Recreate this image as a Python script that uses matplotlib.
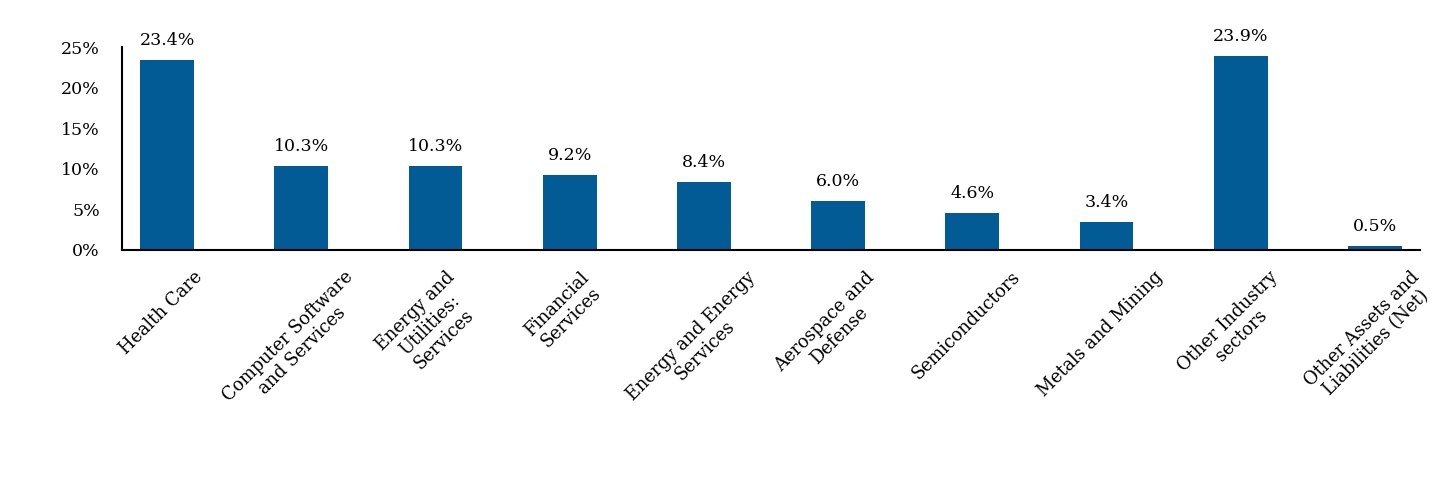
import matplotlib
matplotlib.use("Agg")
import matplotlib.pyplot as plt
import matplotlib.transforms as mtransforms
from matplotlib.ticker import FuncFormatter

categories = [
    "Health Care",
    "Computer Software\nand Services",
    "Energy and\nUtilities:\nServices",
    "Financial\nServices",
    "Energy and Energy\nServices",
    "Aerospace and\nDefense",
    "Semiconductors",
    "Metals and Mining",
    "Other Industry\nsectors",
    "Other Assets and\nLiabilities (Net)",
]
values = [23.4, 10.3, 10.3, 9.2, 8.4, 6.0, 4.6, 3.4, 23.9, 0.5]
yticks = [0, 5, 10, 15, 20, 25]

plt.rcParams['font.family'] = ['DejaVu Serif']

fig = plt.figure(figsize=(14.4, 4.92), dpi=100)
ax = fig.add_axes([122/1440, 1 - 250/492, (1420-122)/1440, (250-47)/492])

x = list(range(len(categories)))
bars = ax.bar(x, values, width=0.4, color="#035B96", zorder=2)

for xi, v in zip(x, values):
    ax.annotate(f"{v:.1f}%", (xi, v), xytext=(0, 8), textcoords="offset points",
                ha="center", va="bottom", fontsize=12.5, color="black")

ax.set_xlim(-0.336, len(categories) - 1 + 0.336)
ax.set_ylim(0, 25)
ax.set_yticks(yticks)
ax.yaxis.set_major_formatter(FuncFormatter(lambda v, p: f"{v:.0f}%"))
ax.tick_params(axis="y", length=0, labelsize=12.5, pad=16)
ax.tick_params(axis="x", length=0, pad=13)

ax.set_xticks(x)
ax.set_xticklabels(categories, rotation=45, ha="center", va="top",
                   multialignment="center", fontsize=12.8, linespacing=1.15)
offset = mtransforms.ScaledTranslation(-6/100, 0, fig.dpi_scale_trans)
for lab in ax.get_xticklabels():
    lab.set_transform(lab.get_transform() + offset)

for s in ["top", "right"]:
    ax.spines[s].set_visible(False)
ax.spines["left"].set_linewidth(1.5)
ax.spines["bottom"].set_linewidth(1.5)
ax.spines["left"].set_color("black")
ax.spines["bottom"].set_color("black")

fig.savefig("out.png", dpi=100)
